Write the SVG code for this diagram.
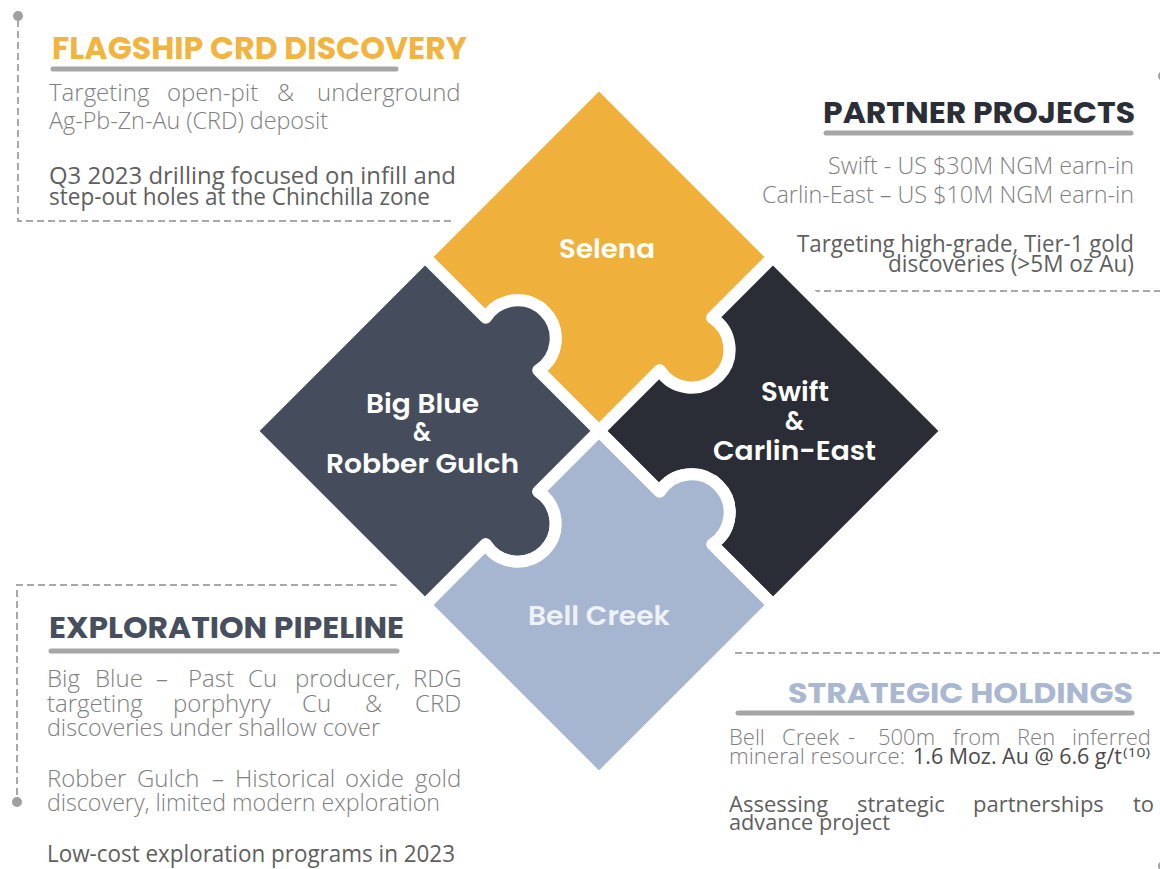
<svg xmlns="http://www.w3.org/2000/svg" width="1160" height="869" viewBox="0 0 1160 869">
<style>
.h{font-family:Poppins,Inter,"Liberation Sans",sans-serif;font-weight:700}
.lbl{font-family:Poppins,Inter,"Liberation Sans",sans-serif;font-weight:600;font-size:27px;fill:#ffffff}
.b{font-family:"Open Sans","Liberation Sans",sans-serif;font-weight:300;fill:#808080}
.d{fill:#5f5f5f;font-weight:400}
.bar{stroke:#a6a6a6;stroke-width:5;stroke-linecap:round;fill:none}
.dash{stroke:#a8a8a8;stroke-width:2;stroke-dasharray:7 4;fill:none}
.dot{fill:#a0a0a0}
.piece{stroke:#ffffff;stroke-width:12;stroke-linejoin:round}
</style>
<rect width="1160" height="869" fill="#ffffff"/>
<g id="dividers">
<path class="dash" d="M18 20 V221 H455"/>
<circle class="dot" cx="18" cy="16" r="5"/>
<path class="dash" d="M813 291 H1160"/>
<circle class="dot" cx="1163" cy="76" r="5"/>
<path class="dash" d="M397 585 H17 V800"/>
<circle class="dot" cx="17" cy="802" r="5"/>
<path class="dash" d="M735 653 H1160"/>
<circle class="dot" cx="1163" cy="866" r="5"/>
</g>
<g id="puzzle" transform="translate(599,431) rotate(45)">
<path id="selena" class="piece" fill="#EFB03C" d="M-246 -246 L0 -246 L0 -160.15 A38 38 0 1 1 0 -85.85 L0 0 L-85.85 0 A38 38 0 1 0 -160.15 0 L-246 0 Z"/>
<path id="swift" class="piece" fill="#2A2D35" d="M0 -246 L246 -246 L246 0 L160.15 0 A38 38 0 1 0 85.85 0 L0 0 L0 -85.85 A38 38 0 1 0 0 -160.15 Z"/>
<path id="bigblue" class="piece" fill="#454D5C" d="M-246 0 L-160.15 0 A38 38 0 1 1 -85.85 0 L0 0 L0 85.85 A38 38 0 1 1 0 160.15 L0 246 L-246 246 Z"/>
<path id="bellcreek" class="piece" fill="#A7B6D0" d="M0 0 L85.85 0 A38 38 0 1 1 160.15 0 L246 0 L246 246 L0 246 L0 160.15 A38 38 0 1 0 0 85.85 Z"/>
</g>
<g id="piece-labels">
<text class="lbl" x="559" y="258" textLength="96" lengthAdjust="spacingAndGlyphs">Selena</text>
<text class="lbl" x="366" y="413" textLength="113" lengthAdjust="spacingAndGlyphs">Big Blue</text>
<text class="lbl" x="413" y="441" textLength="18" lengthAdjust="spacingAndGlyphs">&amp;</text>
<text class="lbl" x="326" y="473" textLength="193" lengthAdjust="spacingAndGlyphs">Robber Gulch</text>
<text class="lbl" x="761" y="401" textLength="68" lengthAdjust="spacingAndGlyphs">Swift</text>
<text class="lbl" x="785" y="430" textLength="19" lengthAdjust="spacingAndGlyphs">&amp;</text>
<text class="lbl" x="713" y="460" textLength="163" lengthAdjust="spacingAndGlyphs">Carlin-East</text>
<text class="lbl" x="528" y="625" textLength="142" lengthAdjust="spacingAndGlyphs" style="fill:#EEF1F6">Bell Creek</text>
</g>
<g id="flagship">
<text class="h" x="52" y="59" font-size="32" fill="#F1B440" textLength="415" lengthAdjust="spacingAndGlyphs">FLAGSHIP CRD DISCOVERY</text>
<line class="bar" x1="53" y1="69" x2="396" y2="69"/>
<text class="b" font-size="24" y="101"><tspan x="49">Targeting</tspan><tspan x="167">open-pit</tspan><tspan x="277">&amp;</tspan><tspan x="317">underground</tspan></text>
<text class="b" font-size="24" x="49" y="129" textLength="279" lengthAdjust="spacingAndGlyphs">Ag-Pb-Zn-Au (CRD) deposit</text>
<text class="b d" font-size="24" x="49" y="184" textLength="407" lengthAdjust="spacingAndGlyphs">Q3 2023 drilling focused on infill and</text>
<text class="b d" font-size="24" x="49" y="205" textLength="381" lengthAdjust="spacingAndGlyphs">step-out holes at the Chinchilla zone</text>
</g>
<g id="partner">
<text class="h" x="823" y="123" font-size="30" fill="#2B2E36" textLength="312" lengthAdjust="spacingAndGlyphs">PARTNER PROJECTS</text>
<line class="bar" x1="826" y1="133" x2="1131" y2="133"/>
<text class="b" font-size="24" x="828" y="174" textLength="306" lengthAdjust="spacingAndGlyphs">Swift - US $30M NGM earn-in</text>
<text class="b" font-size="24" x="762" y="203" textLength="372" lengthAdjust="spacingAndGlyphs">Carlin-East – US $10M NGM earn-in</text>
<text class="b d" font-size="24" x="797" y="252" textLength="337" lengthAdjust="spacingAndGlyphs">Targeting high-grade, Tier-1 gold</text>
<text class="b d" font-size="24" x="888" y="272" textLength="246" lengthAdjust="spacingAndGlyphs">discoveries (&gt;5M oz Au)</text>
</g>
<g id="exploration">
<text class="h" x="49" y="638" font-size="30" fill="#474F5E" textLength="355" lengthAdjust="spacingAndGlyphs">EXPLORATION PIPELINE</text>
<line class="bar" x1="51" y1="651" x2="397" y2="651"/>
<text class="b" font-size="24" y="687"><tspan x="47">Big</tspan><tspan x="95">Blue</tspan><tspan x="156">–</tspan><tspan x="188">Past</tspan><tspan x="248">Cu</tspan><tspan x="295">producer,</tspan><tspan x="413">RDG</tspan></text>
<text class="b" font-size="24" y="712"><tspan x="47">targeting</tspan><tspan x="173">porphyry</tspan><tspan x="302">Cu</tspan><tspan x="365">&amp;</tspan><tspan x="415">CRD</tspan></text>
<text class="b" font-size="24" x="47" y="736" textLength="333" lengthAdjust="spacingAndGlyphs">discoveries under shallow cover</text>
<text class="b" font-size="24" y="787"><tspan x="47">Robber</tspan><tspan x="137">Gulch</tspan><tspan x="212">–</tspan><tspan x="235">Historical</tspan><tspan x="345">oxide</tspan><tspan x="415">gold</tspan></text>
<text class="b" font-size="24" x="47" y="811" textLength="393" lengthAdjust="spacingAndGlyphs">discovery, limited modern exploration</text>
<text class="b d" font-size="24" x="47" y="862" textLength="408" lengthAdjust="spacingAndGlyphs">Low-cost exploration programs in 2023</text>
</g>
<g id="strategic">
<text class="h" x="788" y="703" font-size="28" fill="#A9B7D0" textLength="345" lengthAdjust="spacingAndGlyphs">STRATEGIC HOLDINGS</text>
<line class="bar" x1="738" y1="713" x2="1132" y2="713"/>
<text class="b" font-size="22" y="745"><tspan x="729">Bell</tspan><tspan x="782">Creek</tspan><tspan x="848">-</tspan><tspan x="878">500m</tspan><tspan x="953">from</tspan><tspan x="1017">Ren</tspan><tspan x="1072">inferred</tspan></text>
<text class="b" font-size="22" x="729" y="764" textLength="176" lengthAdjust="spacingAndGlyphs">mineral resource:</text>
<text class="b d" font-size="22" x="913" y="764" textLength="209" lengthAdjust="spacingAndGlyphs" style="fill:#4a4a4a">1.6 Moz. Au @ 6.6 g/t</text>
<text class="b d" font-size="13" x="1123" y="757" textLength="27" lengthAdjust="spacingAndGlyphs" style="fill:#4a4a4a">(10)</text>
<text class="b d" font-size="22" y="812"><tspan x="729">Assessing</tspan><tspan x="857">strategic</tspan><tspan x="973">partnerships</tspan><tspan x="1133">to</tspan></text>
<text class="b d" font-size="22" x="729" y="830" textLength="161" lengthAdjust="spacingAndGlyphs">advance project</text>
</g>
</svg>
